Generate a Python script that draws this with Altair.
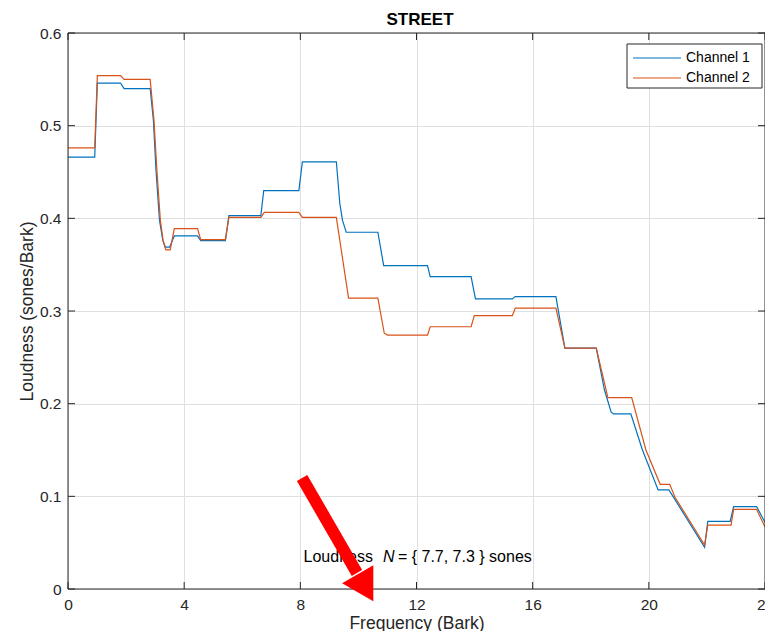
import altair as alt
import pandas as pd

# ---- data ----
CHANNELS = ["Channel 1", "Channel 2"]
COLORS = ["#0072BD", "#D95319"]

FREQ_1 = [0, 0.92, 1.01, 1.81, 1.93, 2.83, 2.94, 3.03, 3.15, 3.26, 3.35, 3.50, 3.66,
          4.46, 4.57, 5.42, 5.54, 6.64, 6.74, 7.95, 8.07, 9.24, 9.36, 9.45, 9.58,
          10.67, 10.87, 12.38, 12.47, 13.88, 14.03, 15.30, 15.40, 16.80, 17.11,
          18.19, 18.47, 18.70, 18.78, 19.38, 19.78, 20.32, 20.69, 20.87, 21.92,
          22.03, 22.80, 22.92, 23.71, 24.0]
LOUD_1 = [0.466, 0.466, 0.546, 0.546, 0.540, 0.540, 0.506, 0.452, 0.398, 0.377, 0.369, 0.369, 0.381,
          0.381, 0.376, 0.376, 0.403, 0.403, 0.430, 0.430, 0.461, 0.461, 0.416, 0.398, 0.385,
          0.385, 0.349, 0.349, 0.337, 0.337, 0.313, 0.313, 0.3155, 0.3155, 0.260,
          0.260, 0.215, 0.191, 0.189, 0.189, 0.150, 0.107, 0.107, 0.098, 0.045,
          0.073, 0.073, 0.089, 0.089, 0.072]

FREQ_2 = [0, 0.92, 1.01, 1.81, 1.93, 2.83, 2.96, 3.06, 3.18, 3.28, 3.37, 3.52, 3.66,
          4.46, 4.57, 5.42, 5.54, 6.64, 6.76, 7.95, 8.07, 9.24, 9.66,
          10.67, 10.89, 11.00, 12.38, 12.47, 13.88, 13.99, 15.30, 15.40, 16.80, 17.11,
          18.19, 18.59, 19.41, 19.90, 20.39, 20.72, 20.90, 21.92,
          22.03, 22.83, 22.92, 23.71, 24.0]
LOUD_2 = [0.476, 0.476, 0.554, 0.554, 0.550, 0.550, 0.506, 0.452, 0.398, 0.375, 0.366, 0.366, 0.389,
          0.389, 0.377, 0.377, 0.401, 0.401, 0.4065, 0.4065, 0.401, 0.401, 0.314,
          0.314, 0.276, 0.274, 0.274, 0.283, 0.283, 0.295, 0.295, 0.303, 0.303, 0.260,
          0.260, 0.2065, 0.2065, 0.150, 0.113, 0.113, 0.099, 0.0475,
          0.069, 0.069, 0.086, 0.086, 0.067]

X_TICKS = [0, 4, 8, 12, 16, 20, 24]
Y_TICKS = [0, 0.1, 0.2, 0.3, 0.4, 0.5, 0.6]
TOTALS = [7.7, 7.3]
TITLE = "STREET"

# ---- build table ----
rows = []
for name, xs, ys in [(CHANNELS[0], FREQ_1, LOUD_1), (CHANNELS[1], FREQ_2, LOUD_2)]:
    for k, (a, b) in enumerate(zip(xs, ys)):
        rows.append({"x": a, "y": b, "channel": name, "order": k})
df = pd.DataFrame(rows)

W, H = 697, 556
FONT = "Liberation Sans"
INK = "#262626"
GRID = "#dfdfdf"
TICK = 7

xscale = alt.Scale(domain=[0, 24], nice=False, zero=False)
yscale = alt.Scale(domain=[0, 0.6], nice=False, zero=False)
xaxis = alt.Axis(values=X_TICKS, format="d", grid=True, gridColor=GRID, ticks=False,
                 domain=False, labelFontSize=15.5, labelFont=FONT, labelColor=INK,
                 labelPadding=8, labelFlush=False, labelOverlap=False,
                 title="Frequency (Bark)", titleFont=FONT, titleFontSize=17.5,
                 titleFontWeight="normal", titleColor=INK, titleY=34,
                 titleBaseline="middle")
yaxis = alt.Axis(values=Y_TICKS, format=".1~f", grid=True, gridColor=GRID, ticks=False,
                 domain=False, labelFontSize=15.5, labelFont=FONT, labelColor=INK,
                 labelPadding=7, labelFlush=False, labelOverlap=False,
                 title="Loudness (sones/Bark)", titleFont=FONT, titleFontSize=17.5,
                 titleFontWeight="normal", titleColor=INK, titleX=-40.5, titleY=H / 2,
                 titleBaseline="middle", titleAlign="center", titleAngle=270)


def X(f):
    return alt.X(f, scale=xscale, axis=xaxis)


def Y(f):
    return alt.Y(f, scale=yscale, axis=yaxis)


lines = alt.Chart(df).mark_line(strokeWidth=1.2).encode(
    x=X("x:Q"), y=Y("y:Q"),
    color=alt.Color("channel:N", scale=alt.Scale(domain=CHANNELS, range=COLORS), legend=None),
    order="order:Q",
)

xt = pd.DataFrame({"x": X_TICKS})
yt = pd.DataFrame({"y": Y_TICKS})
tick_bottom = alt.Chart(xt).mark_rule(color=INK).encode(x=X("x:Q"), y=alt.value(H), y2=alt.value(H - TICK))
tick_top = alt.Chart(xt).mark_rule(color=INK).encode(x=X("x:Q"), y=alt.value(0), y2=alt.value(TICK))
tick_left = alt.Chart(yt).mark_rule(color=INK).encode(y=Y("y:Q"), x=alt.value(0), x2=alt.value(TICK))
tick_right = alt.Chart(yt).mark_rule(color=INK).encode(y=Y("y:Q"), x=alt.value(W), x2=alt.value(W - TICK))

one = pd.DataFrame({"a": [0]})
frame = alt.Chart(one).mark_rect(
    fill="white", fillOpacity=0, stroke=INK, strokeWidth=1
).encode(x=alt.value(0), x2=alt.value(W), y=alt.value(0), y2=alt.value(H))

# legend box drawn by hand (MATLAB style)
LEG_X0, LEG_X1, LEG_Y0, LEG_Y1 = 559, 694, 11, 55
legend_layers = [
    alt.Chart(one).mark_rect(fill="white", stroke=INK, strokeWidth=1).encode(
        x=alt.value(LEG_X0), x2=alt.value(LEG_X1), y=alt.value(LEG_Y0), y2=alt.value(LEG_Y1))
]
for i, (ch, col) in enumerate(zip(CHANNELS, COLORS)):
    yy = LEG_Y0 + 14 + 20 * i
    legend_layers.append(alt.Chart(one).mark_rule(color=col, strokeWidth=1.2).encode(
        x=alt.value(LEG_X0 + 6), x2=alt.value(LEG_X0 + 54), y=alt.value(yy)))
    legend_layers.append(alt.Chart(one).mark_text(
        align="left", baseline="middle", fontSize=14, font=FONT, color="black").encode(
        x=alt.value(LEG_X0 + 59), y=alt.value(yy), text=alt.value(ch)))

# chart title
title = alt.Chart(one).mark_text(
    align="center", baseline="alphabetic", fontSize=17, fontWeight="bold", font=FONT, color="black"
).encode(x=alt.value(352), y=alt.value(-8), text=alt.value(TITLE))

# annotation text "Loudness N = { 7.7, 7.3 } sones"
t1 = alt.Chart(pd.DataFrame({"x": [10.50], "y": [0.029], "t": ["Loudness"]})).mark_text(
    align="right", baseline="alphabetic", fontSize=16, font=FONT, color="black"
).encode(x=X("x:Q"), y=Y("y:Q"), text="t:N")
t2 = alt.Chart(pd.DataFrame({"x": [10.85], "y": [0.029], "t": ["N"]})).mark_text(
    align="left", baseline="alphabetic", fontSize=16, font=FONT, fontStyle="italic", color="black"
).encode(x=X("x:Q"), y=Y("y:Q"), text="t:N")
t3 = alt.Chart(pd.DataFrame({"x": [11.36], "y": [0.029],
                             "t": [f"= {{ {TOTALS[0]}, {TOTALS[1]} }} sones"]})).mark_text(
    align="left", baseline="alphabetic", fontSize=16, font=FONT, color="black"
).encode(x=X("x:Q"), y=Y("y:Q"), text="t:N")

# red arrow overlay
shaft = alt.Chart(pd.DataFrame({"x": [8.06], "y": [0.1198], "x2": [9.95], "y2": [0.0173]})).mark_rule(
    color="#ff0000", strokeWidth=12, strokeCap="butt"
).encode(x=X("x:Q"), y=Y("y:Q"), x2="x2:Q", y2="y2:Q")
head = alt.Chart(pd.DataFrame({"x": [10.155], "y": [0.00626]})).mark_point(
    shape="triangle", filled=True, color="#ff0000", size=1300, angle=150, opacity=1, strokeWidth=0
).encode(x=X("x:Q"), y=Y("y:Q"))

chart = alt.layer(
    lines, tick_bottom, tick_top, tick_left, tick_right, frame, *legend_layers,
    title, t1, t2, t3, shaft, head
).properties(
    width=W, height=H,
    autosize=alt.AutoSizeParams(type="none"),
    padding={"left": 60, "top": 25, "right": 0, "bottom": 42},
).configure_view(stroke=None).configure(background="white")

chart.save("out.html", embed_options={"renderer": "svg", "actions": False})
